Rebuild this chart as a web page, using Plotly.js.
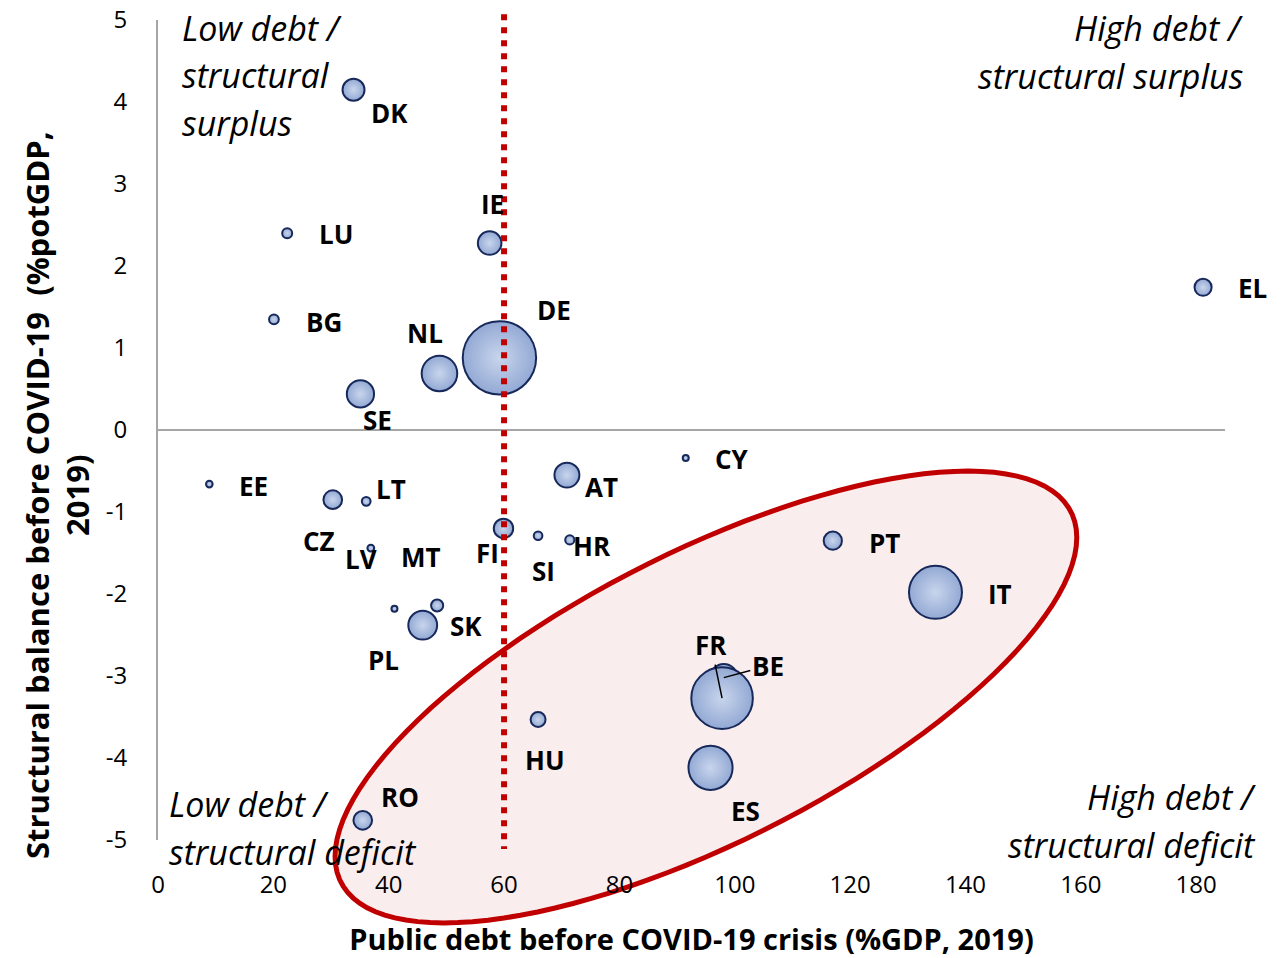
<!DOCTYPE html>
<html>
<head>
<meta charset="utf-8">
<script src="https://cdn.plot.ly/plotly-3.0.1.min.js"></script>
<style>
  html, body { margin: 0; padding: 0; background: #ffffff; }
  #chart { width: 1283px; height: 958px; }
</style>
</head>
<body>
<div id="chart"></div>
<script>
// ---- Data ----
const countries = ["DK","LU","BG","IE","NL","DE","SE","EL","EE","CZ","LT","LV","MT","PL","SK","FI","SI","HR","AT","CY","PT","IT","BE","FR","ES","HU","RO"];
// Public debt before COVID-19 crisis (%GDP, 2019)
const debt = [33.9, 22.4, 20.1, 57.5, 48.8, 59.2, 35.1, 181.2, 8.9, 30.3, 36.1, 36.9, 41.0, 45.9, 48.4, 59.9, 65.9, 71.4, 70.9, 91.5, 117.0, 134.8, 98.1, 97.8, 95.8, 65.9, 35.5];
// Structural balance before COVID-19 (%potGDP, 2019)
const balance = [4.15, 2.40, 1.35, 2.28, 0.69, 0.88, 0.44, 1.74, -0.66, -0.85, -0.87, -1.44, -2.18, -2.38, -2.14, -1.20, -1.29, -1.34, -0.55, -0.34, -1.35, -1.98, -3.02, -3.27, -4.12, -3.53, -4.76];
// Bubble size: nominal GDP 2019 (EUR bn, approx.)
const gdp = [310, 64, 61, 356, 810, 3449, 475, 187, 28, 223, 49, 30, 14, 532, 94, 240, 48, 54, 398, 22, 213, 1796, 476, 2426, 1245, 143, 223];
const xTicks = [0, 20, 40, 60, 80, 100, 120, 140, 160, 180];
const yTicks = [-5, -4, -3, -2, -1, 0, 1, 2, 3, 4, 5];
const debtThreshold = 60;
const xTitle = 'Public debt before COVID-19 crisis (%GDP, 2019)';
const yTitle = 'Structural balance before COVID-19  (%potGDP,<br>2019)';

// ---- Layout helpers (label offsets in pixels, not data) ----
const labelOffsets = {
  DK:[36,23], LU:[49,1], BG:[50,3], IE:[3,-39], NL:[-14,-40], DE:[55,-48], SE:[17,26],
  EL:[49,1], EE:[44,2], CZ:[-14,41], LT:[25,-12], LV:[-10,11], MT:[27,-52], PL:[-39,35],
  SK:[29,21], FI:[-16,25], SI:[5,35], HR:[22,6], AT:[35,12], CY:[46,1], PT:[52,2],
  IT:[65,2], ES:[35,43], HU:[7,41], RO:[37,-23]
};
const leaderLabels = { FR:[-11,-53], BE:[44,-12] };

const xRange = [0, 185];
const yRange = [-5, 5];
const px = x => (x - xRange[0]) / (xRange[1] - xRange[0]);
const py = y => (y - yRange[0]) / (yRange[1] - yRange[0]);

const FONT = '"Open Sans", "Liberation Sans", Arial, sans-serif';

// ---- Traces ----
const bubbles = {
  type: 'scatter',
  mode: 'markers',
  x: debt,
  y: balance,
  text: countries,
  cliponaxis: false,
  hoverinfo: 'text',
  marker: {
    size: gdp,
    sizemode: 'area',
    sizeref: 1.28,
    sizemin: 3,
    opacity: 1,
    color: '#93a9d4',
    gradient: { type: 'radial', color: '#c8d5ec' },
    line: { color: '#17295a', width: 2 }
  },
  showlegend: false
};

// ---- Highlight ellipse (decorative shape, paper coordinates) ----
const ell = { xc: 95.0, yc: -3.256, rx: 64.3, sy: 1.945, ry: 1.951 };
let ellPath = '';
for (let i = 0; i <= 120; i++) {
  const t = 2 * Math.PI * i / 120;
  const ex = ell.xc + ell.rx * Math.cos(t);
  const ey = ell.yc + ell.sy * Math.cos(t) + ell.ry * Math.sin(t);
  ellPath += (i === 0 ? 'M' : 'L') + px(ex).toFixed(5) + ',' + py(ey).toFixed(5);
}
ellPath += 'Z';

const shapes = [
  { type: 'path', xref: 'paper', yref: 'paper', path: ellPath, layer: 'below',
    fillcolor: '#f9eded', line: { color: '#c00000', width: 5 } },
  { type: 'line', xref: 'paper', yref: 'paper',
    x0: px(debtThreshold), x1: px(debtThreshold), y0: py(5.07), y1: py(-5.11), layer: 'above',
    line: { color: '#c00000', width: 6, dash: '6px,7px' } }
];

// ---- Annotations ----
const annotations = [];
countries.forEach((c, i) => {
  if (labelOffsets[c]) {
    const o = labelOffsets[c];
    annotations.push({ x: debt[i], y: balance[i], xref: 'x', yref: 'y', text: c, showarrow: false,
      xshift: o[0], yshift: -o[1], font: { family: FONT, size: 26, color: '#000', weight: 'bold' } });
  } else if (leaderLabels[c]) {
    const o = leaderLabels[c];
    annotations.push({ x: debt[i], y: balance[i], xref: 'x', yref: 'y', text: c, showarrow: true,
      ax: o[0], ay: o[1], arrowhead: 0, arrowwidth: 1.5, arrowcolor: '#000', standoff: 0,
      font: { family: FONT, size: 26, color: '#000', weight: 'bold' } });
  }
});

// quadrant labels (pixel positions converted to paper)
const W = 1067, H = 820, L = 158, T = 20;
const qx = p => (p - L) / W;
const qy = p => (T + H - p) / H;
const quad = [
  ['Low debt /', 180, 28, 'left'], ['structural', 180, 75, 'left'], ['surplus', 180, 123, 'left'],
  ['High debt /', 1245, 28, 'right'], ['structural surplus', 1245, 76, 'right'],
  ['Low debt /', 167, 804, 'left'], ['structural deficit', 167, 852, 'left'],
  ['High debt /', 1258, 797, 'right'], ['structural deficit', 1258, 845, 'right']
];
quad.forEach(q => annotations.push({
  xref: 'paper', yref: 'paper', x: qx(q[1]), y: qy(q[2]), text: q[0], showarrow: false,
  xanchor: q[3], yanchor: 'middle', align: q[3],
  font: { family: FONT, size: 34, color: '#000', style: 'italic' }
}));

// y-axis title (placed as in the reference, slightly below the plot centre)
annotations.push({
  xref: 'paper', yref: 'paper', x: qx(57), y: qy(495), text: yTitle, showarrow: false,
  textangle: -90, xanchor: 'center', yanchor: 'middle', align: 'center',
  font: { family: FONT, size: 31, color: '#000', weight: 'bold' }
});

const layout = {
  width: 1283, height: 958,
  margin: { l: L, r: 1283 - L - W, t: T, b: 958 - T - H },
  paper_bgcolor: '#ffffff', plot_bgcolor: 'rgba(0,0,0,0)',
  font: { family: FONT, color: '#000' },
  xaxis: {
    range: xRange, tickvals: xTicks, ticktext: xTicks.map(String),
    showgrid: false, zeroline: false, showline: false, ticks: '',
    ticklabelstandoff: 28,
    tickfont: { family: FONT, size: 24, color: '#000' },
    title: { text: xTitle, standoff: 32,
      font: { family: FONT, size: 29, color: '#000', weight: 'bold' } },
    automargin: false
  },
  yaxis: {
    range: yRange, tickvals: yTicks, ticktext: yTicks.map(String),
    showgrid: false, zeroline: true, zerolinecolor: '#a6a6a6', zerolinewidth: 2,
    showline: true, linecolor: '#a6a6a6', linewidth: 2, ticks: '',
    ticklabelstandoff: 24,
    tickfont: { family: FONT, size: 24, color: '#000' },
    automargin: false
  },
  shapes: shapes,
  annotations: annotations,
  showlegend: false
};

Plotly.newPlot('chart', [bubbles], layout, { displayModeBar: false, staticPlot: true });
</script>
</body>
</html>
